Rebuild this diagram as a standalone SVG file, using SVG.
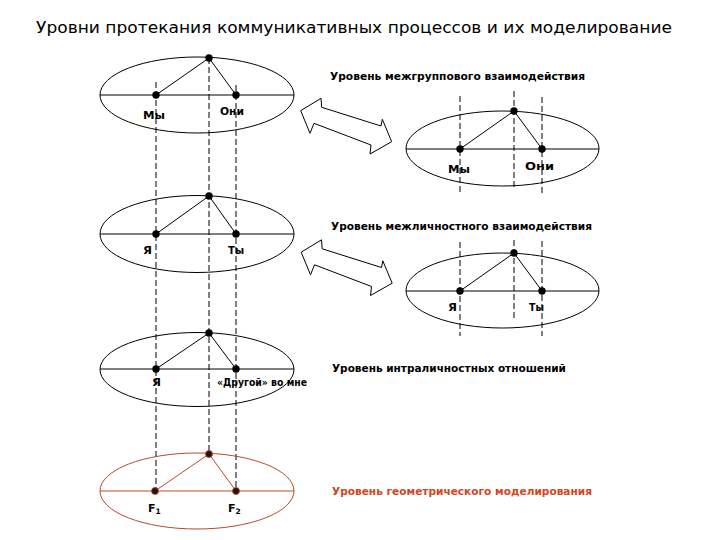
<svg xmlns="http://www.w3.org/2000/svg" width="720" height="540" viewBox="0 0 720 540">
<style>
.el{fill:none;stroke:#000;stroke-width:1}
.ln{stroke:#000;stroke-width:1;fill:none}
.ds{stroke:#000;stroke-width:1;stroke-dasharray:6 3;fill:none}
.dot{fill:#000}
.red .el,.red .ln{stroke:#b84a2c}
.red .dot{fill:#2a1208;stroke:#b84a2c;stroke-width:0.8}
.lbl{font-family:"DejaVu Sans","Liberation Sans",sans-serif;font-weight:bold;font-size:11px;fill:#000}
.hdr{font-family:"DejaVu Sans","Liberation Sans",sans-serif;font-weight:bold;font-size:10.5px;fill:#000}
.ttl{font-family:"DejaVu Sans","Liberation Sans",sans-serif;font-size:15px;fill:#000}
.arr{fill:#fff;stroke:#000;stroke-width:1}
</style>
<defs>
<path id="darrow" d="M300.7,110.7 L321,98.3 L321.7,107.3 L381,126 L382.3,119.3 L391.7,141.7 L370,154 L371,145 L314,123.3 L310,133.3 Z"/>
</defs>
<rect width="720" height="540" fill="#fff"/>
<text class="ttl" x="36" y="33" textLength="636" lengthAdjust="spacingAndGlyphs">Уровни протекания коммуникативных процессов и их моделирование</text>

<g id="connectors">
<line class="ds" x1="156" y1="82" x2="156" y2="491"/>
<line class="ds" x1="209" y1="58" x2="209" y2="454"/>
<line class="ds" x1="236" y1="85" x2="236" y2="491"/>
<line class="ds" x1="460" y1="96" x2="460" y2="193"/>
<line class="ds" x1="514" y1="91" x2="514" y2="188"/>
<line class="ds" x1="542" y1="97" x2="542" y2="193"/>
<line class="ds" x1="460" y1="242" x2="460" y2="336"/>
<line class="ds" x1="514" y1="240" x2="514" y2="318"/>
<line class="ds" x1="542" y1="241" x2="542" y2="336"/>
<use href="#darrow" class="arr"/>
<use href="#darrow" class="arr" transform="translate(0.5,141.5)"/>
</g>

<g id="group-left">
<ellipse class="el" cx="197" cy="95" rx="97" ry="38"/>
<line class="ln" x1="100" y1="95" x2="294" y2="95"/>
<polyline class="ln" points="156,95 209,58 236,95"/>
<circle class="dot" cx="156" cy="95" r="3.7"/>
<circle class="dot" cx="236" cy="95" r="3.7"/>
<circle class="dot" cx="209" cy="58" r="3.7"/>
<text class="lbl" x="143" y="119" textLength="22" lengthAdjust="spacingAndGlyphs">Мы</text>
<text class="lbl" x="220" y="115" textLength="24" lengthAdjust="spacingAndGlyphs">Они</text>
</g>

<g id="group-right">
<text class="hdr" x="330" y="80" textLength="255" lengthAdjust="spacingAndGlyphs">Уровень межгруппового взаимодействия</text>
<ellipse class="el" cx="502.5" cy="148.5" rx="96.5" ry="37.5"/>
<line class="ln" x1="406" y1="149" x2="599" y2="149"/>
<polyline class="ln" points="460,149 514,111 542,149"/>
<circle class="dot" cx="460" cy="149" r="3.7"/>
<circle class="dot" cx="542" cy="149" r="3.7"/>
<circle class="dot" cx="514" cy="111" r="3.7"/>
<text class="lbl" x="448" y="173" textLength="22" lengthAdjust="spacingAndGlyphs">Мы</text>
<text class="lbl" x="525" y="170" textLength="29" lengthAdjust="spacingAndGlyphs">Они</text>
</g>

<g id="interpersonal-left">
<ellipse class="el" cx="197" cy="234" rx="97" ry="38.5"/>
<line class="ln" x1="100" y1="234" x2="294" y2="234"/>
<polyline class="ln" points="156,234 209,196 236,234"/>
<circle class="dot" cx="156" cy="234" r="3.7"/>
<circle class="dot" cx="236" cy="234" r="3.7"/>
<circle class="dot" cx="209" cy="196" r="3.7"/>
<text class="lbl" x="143" y="254" textLength="9" lengthAdjust="spacingAndGlyphs">Я</text>
<text class="lbl" x="228" y="254" textLength="16" lengthAdjust="spacingAndGlyphs">Ты</text>
</g>

<g id="interpersonal-right">
<text class="hdr" x="331" y="230" textLength="261" lengthAdjust="spacingAndGlyphs">Уровень межличностного взаимодействия</text>
<ellipse class="el" cx="502.5" cy="290.5" rx="96.5" ry="37.5"/>
<line class="ln" x1="406" y1="291" x2="599" y2="291"/>
<polyline class="ln" points="460,291 514,253 542,291"/>
<circle class="dot" cx="460" cy="291" r="3.7"/>
<circle class="dot" cx="542" cy="291" r="3.7"/>
<circle class="dot" cx="514" cy="253" r="3.7"/>
<text class="lbl" x="448" y="311" textLength="9" lengthAdjust="spacingAndGlyphs">Я</text>
<text class="lbl" x="529" y="311" textLength="15" lengthAdjust="spacingAndGlyphs">Ты</text>
</g>

<g id="intrapersonal">
<ellipse class="el" cx="197" cy="369.5" rx="97" ry="37"/>
<line class="ln" x1="100" y1="369" x2="294" y2="369"/>
<polyline class="ln" points="156,369 209,333 236,369"/>
<circle class="dot" cx="156" cy="369" r="3.7"/>
<circle class="dot" cx="236" cy="369" r="3.7"/>
<circle class="dot" cx="209" cy="333" r="3.7"/>
<text class="lbl" x="152" y="386" textLength="9" lengthAdjust="spacingAndGlyphs">Я</text>
<text class="lbl" x="217" y="386" textLength="90" lengthAdjust="spacingAndGlyphs">«Другой» во мне</text>
<text class="hdr" x="332" y="372" textLength="234" lengthAdjust="spacingAndGlyphs">Уровень интраличностных отношений</text>
</g>

<g id="geometric" class="red">
<ellipse class="el" cx="197" cy="491" rx="97" ry="38"/>
<line class="ln" x1="100" y1="491" x2="294" y2="491"/>
<polyline class="ln" points="155,491 209,454 236,491"/>
<circle class="dot" cx="155" cy="491" r="3.5"/>
<circle class="dot" cx="236" cy="491" r="3.5"/>
<circle class="dot" cx="209" cy="454" r="3.5"/>
<text class="lbl" x="148" y="512">F<tspan font-size="7.5px" dy="2">1</tspan></text>
<text class="lbl" x="228" y="512">F<tspan font-size="7.5px" dy="2">2</tspan></text>
<text class="hdr" x="332" y="495" textLength="260" lengthAdjust="spacingAndGlyphs" style="fill:#d4461c">Уровень геометрического моделирования</text>
</g>
</svg>
